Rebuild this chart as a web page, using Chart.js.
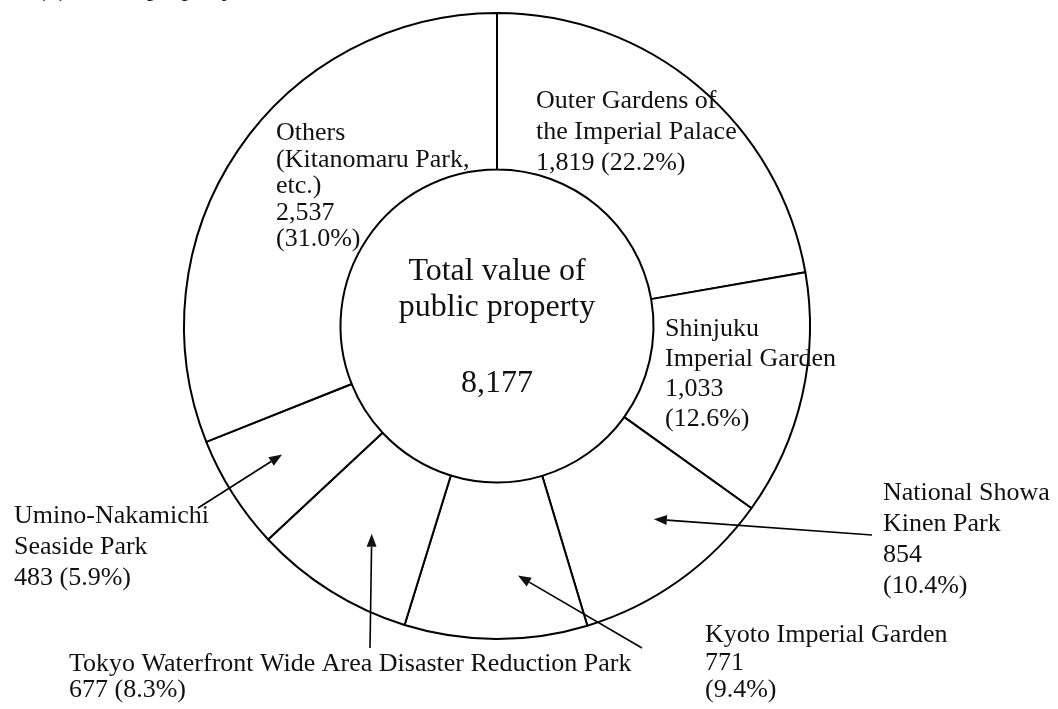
<!DOCTYPE html>
<html>
<head>
<meta charset="utf-8">
<script src="https://cdn.jsdelivr.net/npm/chart.js@4"></script>
<style>
  body { margin: 0; background: #fff; }
  #chart-box { width: 1058px; height: 709px; }
</style>
</head>
<body>
<div id="chart-box"><canvas id="propertyChart" width="1058" height="709"></canvas></div>
<script>
// values in the order they go round the ring, clockwise from the top
const categories = [
    'Outer Gardens of the Imperial Palace',
    'Shinjuku Imperial Garden',
    'National Showa Kinen Park',
    'Kyoto Imperial Garden',
    'Tokyo Waterfront Wide Area Disaster Reduction Park',
    'Umino-Nakamichi Seaside Park',
    'Others (Kitanomaru Park, etc.)'
];
const values = [1819, 1033, 854, 771, 677, 483, 2537];
const shares = [22.2, 12.6, 10.4, 9.4, 8.3, 5.9, 31.0];
const totalValue = 8177;
const centerLines = ['Total value of', 'public property'];
const titleText = '(2) Public property';

// how each label is broken into lines ({v} = value, {p} = share)
const labelLines = [
    ['Outer Gardens of', 'the Imperial Palace', '{v} ({p})'],
    ['Shinjuku', 'Imperial Garden', '{v}', '({p})'],
    ['National Showa', 'Kinen Park', '{v}', '({p})'],
    ['Kyoto Imperial Garden', '{v}', '({p})'],
    ['Tokyo Waterfront Wide Area Disaster Reduction Park', '{v} ({p})'],
    ['Umino-Nakamichi', 'Seaside Park', '{v} ({p})'],
    ['Others', '(Kitanomaru Park,', 'etc.)', '{v}', '({p})']
];

// label placement: x, first baseline, line height, arrow tail (null = no arrow), tip angle nudge (deg)
const labelPlace = [
    { x: 536, y: 108, lh: 31, tail: null },
    { x: 665, y: 336, lh: 30, tail: null },
    { x: 883, y: 500, lh: 31, tail: [872, 535], nudge: -3.5, rf: 0.59 },
    { x: 705, y: 642, lh: 27.5, tail: [642, 648], nudge: -5, rf: 0.6 },
    { x: 69, y: 671, lh: 26, tail: [370, 648], nudge: -1, rf: 0.55 },
    { x: 14, y: 523, lh: 31, tail: [198, 508], nudge: 1.5, rf: 0.6 },
    { x: 276, y: 140, lh: 26.5, tail: null }
];

const serif = "'Liberation Serif', 'Times New Roman', serif";

function fillLine(line, i) {
    return line
        .replace('{v}', values[i].toLocaleString('en-US'))
        .replace('{p}', shares[i].toFixed(1) + '%');
}

function drawArrow(ctx, x1, y1, x2, y2) {
    const ang = Math.atan2(y2 - y1, x2 - x1);
    const head = 13, half = 5;
    const bx = x2 - head * Math.cos(ang), by = y2 - head * Math.sin(ang);
    ctx.beginPath();
    ctx.moveTo(x1, y1);
    ctx.lineTo(bx, by);
    ctx.stroke();
    ctx.beginPath();
    ctx.moveTo(x2, y2);
    ctx.lineTo(bx + half * Math.sin(ang), by - half * Math.cos(ang));
    ctx.lineTo(bx - half * Math.sin(ang), by + half * Math.cos(ang));
    ctx.closePath();
    ctx.fill();
}

const annotations = {
    id: 'annotations',
    afterDraw(chart) {
        const ctx = chart.ctx;
        const arcs = chart.getDatasetMeta(0).data;
        ctx.save();
        ctx.fillStyle = '#111';
        ctx.strokeStyle = '#000';
        ctx.lineWidth = 1.6;

        // title, mostly cut off by the top edge
        ctx.font = '26px ' + serif;
        ctx.textAlign = 'left';
        ctx.textBaseline = 'alphabetic';
        ctx.fillText(titleText, 37, -4);

        // centre text
        const c = arcs[0];
        ctx.textAlign = 'center';
        ctx.font = '32px ' + serif;
        ctx.fillText(centerLines[0], c.x, 280);
        ctx.fillText(centerLines[1], c.x, 316);
        ctx.fillText(totalValue.toLocaleString('en-US'), c.x, 392);

        // slice labels
        ctx.textAlign = 'left';
        ctx.font = '26px ' + serif;
        labelLines.forEach((lines, i) => {
            const p = labelPlace[i];
            lines.forEach((ln, j) => ctx.fillText(fillLine(ln, i), p.x, p.y + j * p.lh));
            if (p.tail) {
                const a = arcs[i];
                const mid = (a.startAngle + a.endAngle) / 2 + (p.nudge || 0) * Math.PI / 180;
                const r = a.innerRadius + p.rf * (a.outerRadius - a.innerRadius);
                drawArrow(ctx, p.tail[0], p.tail[1], a.x + r * Math.cos(mid), a.y + r * Math.sin(mid));
            }
        });
        ctx.restore();
    }
};

const ctx = document.getElementById('propertyChart').getContext('2d');
const propertyChart = new Chart(ctx, {
    type: 'doughnut',
    data: {
        labels: categories,
        datasets: [{
            data: values,
            backgroundColor: '#fff',
            borderColor: '#000',
            borderWidth: 2
        }]
    },
    options: {
        responsive: false,
        animation: false,
        devicePixelRatio: 1,
        cutout: '50%',
        layout: { padding: { left: 183, right: 247, top: 12, bottom: 69 } },
        plugins: {
            legend: { display: false },
            tooltip: { enabled: false }
        }
    },
    plugins: [annotations]
});
</script>
</body>
</html>
